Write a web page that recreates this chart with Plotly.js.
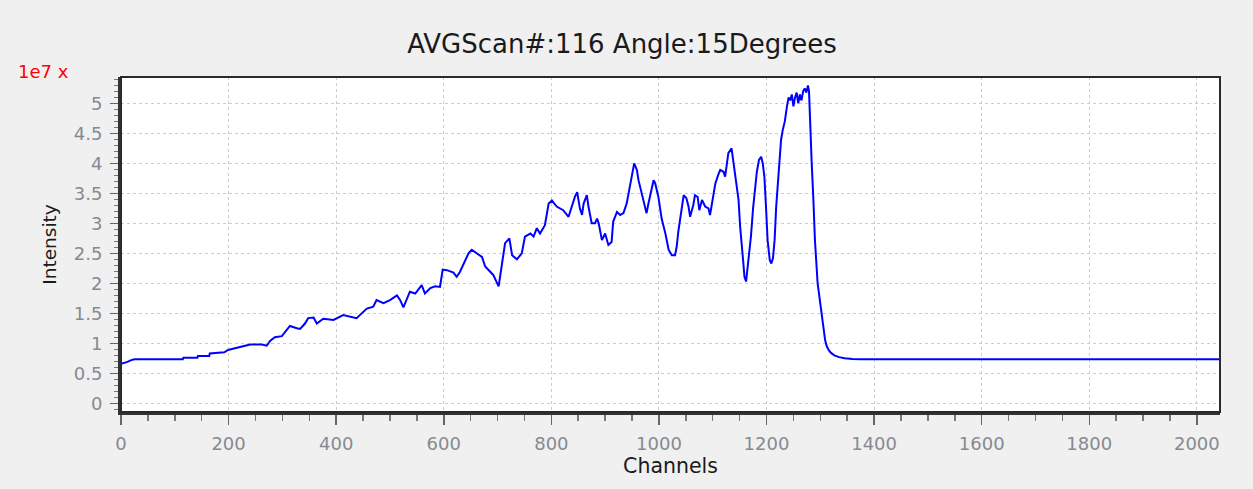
<!DOCTYPE html>
<html>
<head>
<meta charset="utf-8">
<script src="https://cdn.plot.ly/plotly-3.0.1.min.js"></script>
<style>
  html, body { margin: 0; padding: 0; background: #f0f0f0; }
  #chart { width: 1253px; height: 489px; }
</style>
</head>
<body>
<div id="chart"></div>
<script>
// Channel numbers (x) and intensity in units of 1e7 (y)
const channels = [
  0, 5, 12, 19, 25, 60, 115, 116, 142, 143, 164, 165, 192, 199, 218, 240, 262, 271, 277, 286,
  299, 305, 314, 327, 333, 342, 348, 358, 364, 376, 395, 413, 438, 444, 457, 469, 475, 488, 500, 513,
  519, 525, 537, 547, 559, 565, 575, 584, 593, 598, 606, 618, 624, 630, 637, 646, 652, 661, 671, 677,
  686, 692, 702, 708, 714, 722, 727, 736, 745, 751, 761, 767, 773, 779, 788, 795, 801, 810, 822, 832,
  838, 844, 848, 853, 857, 860, 866, 869, 875, 881, 885, 888, 894, 900, 906, 912, 915, 922, 928, 934,
  940, 945, 950, 954, 959, 962, 968, 974, 977, 980, 984, 990, 993, 999, 1005, 1012, 1018, 1024, 1030, 1033,
  1036, 1043, 1046, 1051, 1055, 1058, 1064, 1067, 1072, 1075, 1080, 1086, 1092, 1095, 1100, 1105, 1111, 1114, 1120, 1123,
  1126, 1129, 1135, 1138, 1142, 1145, 1148, 1151, 1154, 1157, 1159, 1162, 1165, 1168, 1171, 1175, 1178, 1182, 1186, 1190,
  1193, 1196, 1199, 1202, 1206, 1209, 1212, 1215, 1218, 1221, 1224, 1227, 1230, 1234, 1238, 1241, 1244, 1247, 1250, 1253,
  1256, 1259, 1262, 1265, 1268, 1271, 1274, 1277, 1279, 1281, 1284, 1287, 1290, 1295, 1300, 1303, 1306, 1309, 1312, 1316,
  1320, 1326, 1335, 1345, 1360, 1375, 2047
];
const intensity_1e7 = [
  0.66, 0.67, 0.69, 0.72, 0.735, 0.735, 0.735, 0.76, 0.76, 0.79, 0.79, 0.83, 0.85, 0.89, 0.93, 0.98, 0.98, 0.96, 1.04, 1.10,
  1.12, 1.19, 1.29, 1.25, 1.24, 1.33, 1.42, 1.43, 1.33, 1.41, 1.39, 1.47, 1.42, 1.47, 1.58, 1.61, 1.72, 1.67, 1.72, 1.80,
  1.72, 1.60, 1.86, 1.83, 1.97, 1.83, 1.92, 1.95, 1.94, 2.23, 2.22, 2.18, 2.11, 2.19, 2.33, 2.50, 2.56, 2.50, 2.44, 2.28,
  2.19, 2.14, 1.95, 2.33, 2.67, 2.75, 2.47, 2.40, 2.50, 2.78, 2.83, 2.78, 2.92, 2.83, 2.97, 3.33, 3.38, 3.28, 3.22, 3.11,
  3.30, 3.45, 3.52, 3.25, 3.14, 3.33, 3.47, 3.28, 3.00, 3.00, 3.08, 3.00, 2.72, 2.83, 2.64, 2.69, 3.03, 3.19, 3.14, 3.17,
  3.33, 3.58, 3.78, 4.00, 3.89, 3.72, 3.50, 3.25, 3.17, 3.31, 3.50, 3.72, 3.67, 3.44, 3.08, 2.83, 2.56, 2.47, 2.47, 2.61,
  2.86, 3.28, 3.47, 3.42, 3.28, 3.11, 3.31, 3.47, 3.44, 3.22, 3.39, 3.28, 3.25, 3.14, 3.42, 3.67, 3.83, 3.89, 3.86, 3.78,
  3.97, 4.17, 4.25, 4.06, 3.83, 3.58, 3.39, 2.94, 2.56, 2.33, 2.11, 2.03, 2.28, 2.50, 2.78, 3.25, 3.56, 3.86, 4.06, 4.11,
  4.00, 3.78, 3.28, 2.72, 2.39, 2.33, 2.42, 2.72, 3.28, 3.67, 4.00, 4.39, 4.55, 4.70, 4.95, 5.10, 5.05, 5.15, 4.95, 5.10,
  5.18, 5.00, 5.15, 5.05, 5.20, 5.25, 5.18, 5.30, 5.20, 4.60, 4.00, 3.42, 2.72, 2.00, 1.64, 1.39, 1.20, 1.05, 0.95, 0.88,
  0.84, 0.80, 0.77, 0.75, 0.74, 0.735, 0.735
];

const chartTitle = 'AVGScan#:116 Angle:15Degrees';
const xTitle = 'Channels';
const yTitle = 'Intensity';
const scaleLabel = '1e7 x';

const FONT = 'DejaVu Sans, Verdana, sans-serif';
const tickColor = '#858a92';

const trace = {
  x: channels,
  y: intensity_1e7,
  type: 'scatter',
  mode: 'lines',
  line: { color: '#0000ff', width: 2 },
  hoverinfo: 'x+y'
};

const layout = {
  width: 1253,
  height: 489,
  paper_bgcolor: '#f0f0f0',
  plot_bgcolor: '#ffffff',
  margin: { l: 121, r: 33, t: 77, b: 77, pad: 0 },
  showlegend: false,
  title: {
    text: chartTitle,
    font: { family: FONT, size: 26, color: '#1a1a1a' },
    x: 622 / 1253, xanchor: 'center', xref: 'container',
    y: 1 - 44 / 489, yanchor: 'middle', yref: 'container'
  },
  xaxis: {
    range: [0, 2043],
    tick0: 0, dtick: 200,
    ticks: 'outside', ticklen: 10, tickwidth: 1.5, tickcolor: '#666666',
    minor: { dtick: 50, ticks: 'outside', ticklen: 6, tickwidth: 1.5, tickcolor: '#777777', showgrid: false },
    showgrid: true, gridcolor: '#cccccc', griddash: 'dot', gridwidth: 1,
    zeroline: false,
    showline: true, linecolor: '#333333', linewidth: 3,
    tickfont: { family: FONT, size: 18, color: tickColor },
    ticklabelstandoff: 3,
    title: { text: xTitle, font: { family: FONT, size: 20.5, color: '#1a1a1a' }, standoff: 6 },
    fixedrange: true
  },
  yaxis: {
    range: [-0.145, 5.44],
    tick0: 0, dtick: 0.5,
    ticks: 'outside', ticklen: 8, tickwidth: 1.5, tickcolor: '#666666',
    minor: { dtick: 0.1, ticks: 'outside', ticklen: 4, tickwidth: 1.5, tickcolor: '#777777', showgrid: false },
    showgrid: true, gridcolor: '#cccccc', griddash: 'dot', gridwidth: 1,
    zeroline: false,
    showline: true, linecolor: '#333333', linewidth: 3,
    tickfont: { family: FONT, size: 18, color: tickColor },
    ticklabelstandoff: 4,
    title: { text: yTitle, font: { family: FONT, size: 18.5, color: '#1a1a1a' }, standoff: 13 },
    fixedrange: true
  },
  shapes: [{
    type: 'rect', xref: 'paper', yref: 'paper', x0: 0, x1: 1, y0: 0, y1: 1,
    line: { color: '#2a2a2a', width: 2 }, fillcolor: 'rgba(0,0,0,0)', layer: 'above'
  }],
  annotations: [{
    text: scaleLabel, showarrow: false,
    xref: 'paper', yref: 'paper',
    x: -121 / 1099 + 16 / 1099, xanchor: 'left',
    y: 1 + (77 - 71) / 335, yanchor: 'middle',
    font: { family: FONT, size: 18, color: '#ff0000' }
  }]
};

Plotly.newPlot('chart', [trace], layout, { displayModeBar: false, staticPlot: true });
</script>
</body>
</html>
